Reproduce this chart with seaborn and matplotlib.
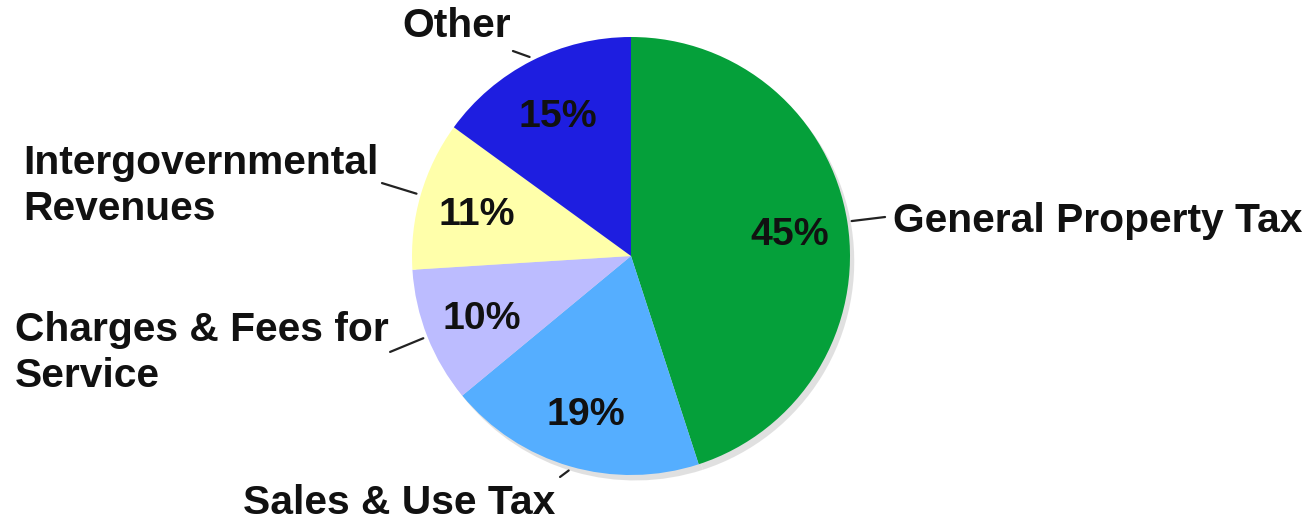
import matplotlib
matplotlib.use("Agg")
import matplotlib.pyplot as plt
import matplotlib.patches as mpatches
import seaborn as sns
import numpy as np

# ---- data ----
categories = ["General Property Tax", "Sales & Use Tax", "Charges & Fees for\nService",
              "Intergovernmental\nRevenues", "Other"]
shares = [45, 19, 10, 11, 15]
colors = ["#05A03A", "#55AEFF", "#BCBCFF", "#FFFFAA", "#1E1EE0"]

# label layout (data units, pie radius = 1): text anchor (last-line baseline) and leader-line outer end
label_pos = [(1.196, 0.110), (-1.772, -1.180), (-2.813, -0.598), (-2.776, 0.164), (-1.046, 1.000)]
leader_outer = [(1.160, 0.178), (-0.324, -1.009), (-1.100, -0.438), (-1.137, 0.333), (-0.539, 0.936)]

sns.set_theme(style="white")
plt.rcParams["font.family"] = ["Liberation Sans", "DejaVu Sans"]

W, H = 1310, 521
fig = plt.figure(figsize=(W / 100, H / 100), dpi=100)
fig.patch.set_facecolor("white")
cx, cy, r = 631, 256, 219
ax = fig.add_axes([(cx - r) / W, (H - cy - r) / H, 2 * r / W, 2 * r / H])

wedges, texts, autotexts = ax.pie(
    shares, colors=colors, startangle=90, counterclock=False,
    autopct="%d%%", pctdistance=0.735,
    wedgeprops=dict(linewidth=0, edgecolor="none", zorder=3),
    textprops=dict(fontsize=28.3, fontweight="bold", color="#111111", zorder=5),
    shadow=dict(ox=0.014, oy=-0.018, facecolor="#d4d4d4", edgecolor="none", alpha=0.7, zorder=1),
)
for p in ax.patches:
    if isinstance(p, mpatches.Shadow):
        p.set_clip_on(False)
for t in autotexts:
    t.set_va("center_baseline")
ax.set_xlim(-1, 1)
ax.set_ylim(-1, 1)
ax.set_aspect("equal")
ax.axis("off")

for w, lab, (tx, ty), (ox_, oy_) in zip(wedges, categories, label_pos, leader_outer):
    mid = np.deg2rad((w.theta1 + w.theta2) / 2)
    inner = (1.02 * np.cos(mid), 1.02 * np.sin(mid))
    ax.annotate("", xy=inner, xytext=(ox_, oy_),
                arrowprops=dict(arrowstyle="-", lw=1.6, color="#222222", shrinkA=0, shrinkB=0),
                annotation_clip=False)
    ax.text(tx, ty, lab, ha="left", va="baseline", fontsize=29.3, fontweight="bold",
            color="#111111", linespacing=1.27, clip_on=False)

fig.savefig("out.png", dpi=100, facecolor="white")
